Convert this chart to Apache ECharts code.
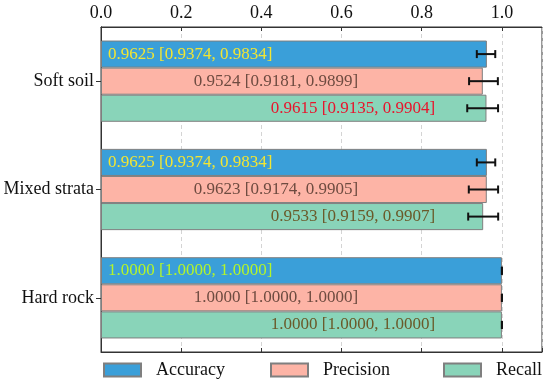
<!DOCTYPE html>
<html>
<head>
<meta charset="utf-8">
<script src="https://cdn.jsdelivr.net/npm/echarts@6/dist/echarts.min.js"></script>
<style>html,body{margin:0;padding:0;background:#fff;}#c{width:550px;height:382px;}</style>
</head>
<body>
<div id="c"></div>
<script>
// ---- data ----
const categories = ['Soft soil', 'Mixed strata', 'Hard rock'];
const seriesNames = ['Accuracy', 'Precision', 'Recall'];
const accuracy = [0.9625, 0.9625, 1.0000];
const accuracyLow = [0.9374, 0.9374, 1.0000];
const accuracyHigh = [0.9834, 0.9834, 1.0000];
const precision = [0.9524, 0.9623, 1.0000];
const precisionLow = [0.9181, 0.9174, 1.0000];
const precisionHigh = [0.9899, 0.9905, 1.0000];
const recall = [0.9615, 0.9533, 1.0000];
const recallLow = [0.9135, 0.9159, 1.0000];
const recallHigh = [0.9904, 0.9907, 1.0000];
const xTicks = [0, 0.2, 0.4, 0.6, 0.8, 1.0];

// ---- styles ----
const FONT = 'Liberation Serif';
const barColors = ['#3a9fd9', '#fdb4a6', '#89d4b9'];
const labelColors = [
  ['#f2e533', '#f2e533', '#b4f52a'],
  ['#6e4b40', '#6e4b40', '#6e4b40'],
  ['#e8142c', '#6a5a2a', '#6a5a2a']
];
const labelPos = [[7, '50%', 'left'], [175, '50%', 'center'], [252, '50%', 'center']];

const vals = [accuracy, precision, recall];
const lows = [accuracyLow, precisionLow, recallLow];
const highs = [accuracyHigh, precisionHigh, recallHigh];

const barSeries = seriesNames.map((name, k) => ({
  name: name,
  type: 'bar',
  xAxisIndex: 0,
  yAxisIndex: 0,
  barGap: '0%',
  barCategoryGap: '25%',
  itemStyle: { color: barColors[k], borderColor: '#7f7f7f', borderWidth: 1 },
  data: vals[k].map((v, i) => ({
    value: v,
    label: {
      show: true,
      position: [labelPos[k][0], labelPos[k][1]],
      align: labelPos[k][2],
      verticalAlign: 'middle',
      color: labelColors[k][i],
      fontFamily: FONT,
      fontSize: 17,
      formatter: () => v.toFixed(4) + ' [' + lows[k][i].toFixed(4) + ', ' + highs[k][i].toFixed(4) + ']'
    }
  })),
  z: 2
}));

const errData = [];
for (let k = 0; k < 3; k++) {
  for (let i = 0; i < categories.length; i++) {
    errData.push([i, lows[k][i], highs[k][i], k]);
  }
}

const errSeries = {
  type: 'custom',
  name: 'err',
  xAxisIndex: 0,
  yAxisIndex: 0,
  encode: { x: [1, 2], y: 0 },
  z: 5,
  silent: true,
  renderItem: function (params, api) {
    const cat = api.value(0), lo = api.value(1), hi = api.value(2), k = api.value(3);
    const pLo = api.coord([lo, cat]);
    const pHi = api.coord([hi, cat]);
    const band = Math.abs(api.size([0, 1])[1]);
    const bw = band * 0.75 / 3;
    const y = pLo[1] - band * 0.75 / 2 + bw * (k + 0.5);
    const h = 4;
    const st = { stroke: '#111', lineWidth: 2 };
    return {
      type: 'group',
      children: [
        { type: 'line', shape: { x1: pLo[0], y1: y, x2: pHi[0], y2: y }, style: st },
        { type: 'line', shape: { x1: pLo[0], y1: y - h, x2: pLo[0], y2: y + h }, style: st },
        { type: 'line', shape: { x1: pHi[0], y1: y - h, x2: pHi[0], y2: y + h }, style: st }
      ]
    };
  },
  data: errData
};

const legendLefts = [103, 270, 443];
const legends = seriesNames.map((n, k) => ({
  data: [n],
  left: legendLefts[k],
  top: 361,
  padding: 0,
  itemWidth: 37,
  itemHeight: 13,
  icon: 'rect',
  selectedMode: false,
  textStyle: { fontFamily: FONT, fontSize: 18, color: '#111', padding: [0, 0, 0, 10] }
}));

const axisLabelStyle = { fontFamily: FONT, fontSize: 18, color: '#111' };

const option = {
  animation: false,
  backgroundColor: '#fff',
  grid: { left: 101, right: 8, top: 27, bottom: 30, show: true, borderColor: '#333', borderWidth: 1, backgroundColor: 'transparent' },
  legend: legends,
  xAxis: [
    {
      type: 'value', position: 'top', min: 0, max: 1.1, interval: 0.2,
      axisLine: { show: true, lineStyle: { color: '#333', width: 1 } },
      axisTick: { show: true, inside: true, length: 4, lineStyle: { color: '#333' } },
      axisLabel: Object.assign({ margin: 5, showMaxLabel: false, formatter: v => (xTicks.indexOf(Math.round(v * 10) / 10) >= 0 ? v.toFixed(1) : '') }, axisLabelStyle),
      splitLine: { show: true, lineStyle: { type: [4, 3], color: '#d4d4d4', width: 1 } }
    },
    {
      type: 'value', position: 'bottom', min: 0, max: 1.1, interval: 0.2,
      axisLine: { show: true, lineStyle: { color: '#333', width: 1 } },
      axisTick: { show: true, inside: true, length: 4, lineStyle: { color: '#333' } },
      axisLabel: { show: false },
      splitLine: { show: false }
    }
  ],
  yAxis: [
    {
      type: 'category', data: categories, inverse: true, position: 'left',
      axisLine: { show: true, lineStyle: { color: '#333', width: 1 } },
      axisTick: { show: true, alignWithLabel: true, length: 5, lineStyle: { color: '#333' } },
      axisLabel: Object.assign({ margin: 7 }, axisLabelStyle),
      splitLine: { show: false }
    },
    {
      type: 'category', data: categories, inverse: true, position: 'right',
      axisLine: { show: true, lineStyle: { color: '#333', width: 1 } },
      axisTick: { show: true, inside: true, alignWithLabel: true, length: 5, lineStyle: { color: '#333' } },
      axisLabel: { show: false },
      splitLine: { show: false }
    }
  ],
  series: barSeries.concat([errSeries])
};

const chart = echarts.init(document.getElementById('c'), null, { renderer: 'canvas' });
chart.setOption(option);
</script>
</body>
</html>
